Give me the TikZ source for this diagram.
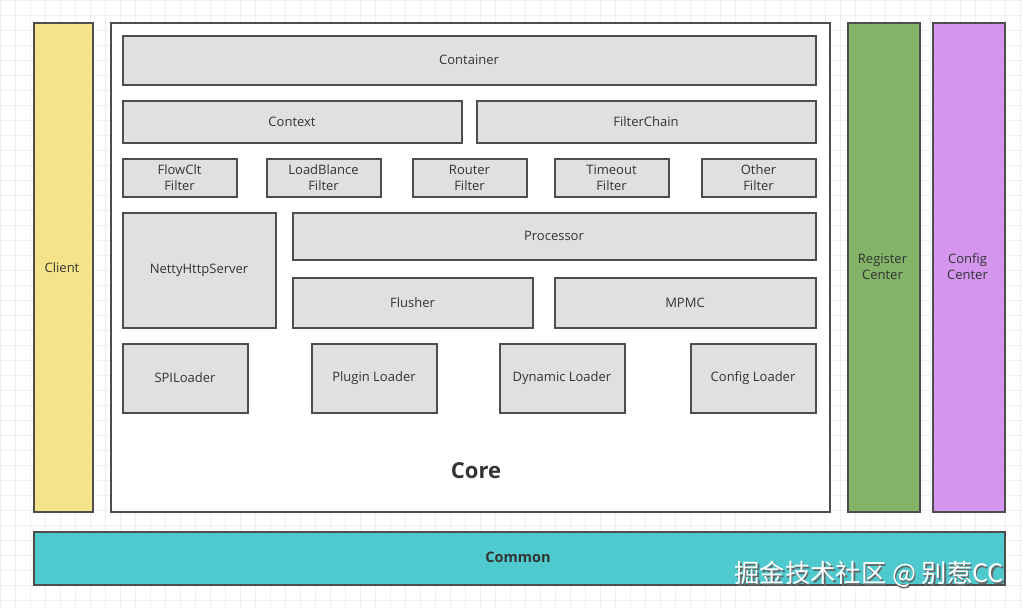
\documentclass[tikz,border=0pt]{standalone}
\usepackage{fontspec}
\setmainfont{Open Sans}
\newfontfamily\cjk{Noto Sans CJK SC}
\definecolor{txt}{HTML}{333333}
\definecolor{edge}{HTML}{4D4D4D}
\definecolor{boxgray}{HTML}{E0E0E0}
\definecolor{clientY}{HTML}{F5E38A}
\definecolor{regG}{HTML}{82B366}
\definecolor{cfgP}{HTML}{D395EE}
\definecolor{commonT}{HTML}{4ECACF}
\definecolor{gridc}{HTML}{EFEFEF}
\begin{document}
\begin{tikzpicture}[x=1pt,y=-1pt,
  lbl/.style={text=txt,font=\fontsize{13}{16}\selectfont,align=center},
  blk/.style={draw=edge,line width=2pt,fill=boxgray,anchor=north west,inner sep=0pt,lbl},
  col/.style={draw=edge,line width=2pt,anchor=north west,inner sep=0pt}]
\useasboundingbox (0,0) rectangle (1022,608);
\fill[white] (0,0) rectangle (1022,608);
\draw[gridc,line width=0.8pt,step=15pt] (0,0) grid (1022,608);
% columns
\node[col,fill=clientY,minimum width=59pt,minimum height=489pt] (client) at (32.5,21.5) {};
\node[lbl] (clientt) at (62,268) {Client};
\node[col,fill=white,minimum width=719pt,minimum height=489pt] (core) at (109.5,21.5) {};
\node[col,fill=regG,minimum width=72pt,minimum height=489pt] (reg) at (846.5,21.5) {};
\node[lbl] (regt) at (882.5,267) {Register\\Center};
\node[col,fill=cfgP,minimum width=72pt,minimum height=489pt] (cfg) at (931.5,21.5) {};
\node[lbl] (cfgt) at (967.5,267) {Config\\Center};
\node[col,fill=commonT,minimum width=971pt,minimum height=53pt] (common) at (32.5,530.5) {};
\node[text=txt,font=\bfseries\fontsize{14.5}{16}\selectfont] (commont) at (518,557) {Common};
% core contents
\node[blk,minimum width=693pt,minimum height=49pt] (container) at (121.5,34.5) {Container};
\node[blk,minimum width=339pt,minimum height=42pt] (context) at (121.5,99.5) {Context};
\node[blk,minimum width=339pt,minimum height=42pt] (chain) at (475.5,99.5) {FilterChain};
\node[blk,minimum width=114pt,minimum height=38pt] (f1) at (121.5,157.5) {FlowClt\\Filter};
\node[blk,minimum width=114pt,minimum height=38pt] (f2) at (265.5,157.5) {LoadBlance\\Filter};
\node[blk,minimum width=114pt,minimum height=38pt] (f3) at (411.5,157.5) {Router\\Filter};
\node[blk,minimum width=114pt,minimum height=38pt] (f4) at (553.5,157.5) {Timeout\\Filter};
\node[blk,minimum width=114pt,minimum height=38pt] (f5) at (700.5,157.5) {Other\\Filter};
\node[blk,minimum width=153pt,minimum height=115pt] (netty) at (121.5,211.5) {NettyHttpServer};
\node[blk,minimum width=523pt,minimum height=47pt] (proc) at (291.5,211.5) {Processor};
\node[blk,minimum width=240pt,minimum height=50pt] (flush) at (291.5,276.5) {Flusher};
\node[blk,minimum width=261pt,minimum height=50pt] (mpmc) at (553.5,276.5) {MPMC};
\node[blk,minimum width=125pt,minimum height=69pt] (l1) at (121.5,342.5) {SPILoader};
\node[blk,minimum width=125pt,minimum height=69pt] (l2) at (310.5,342.5) {Plugin Loader};
\node[blk,minimum width=125pt,minimum height=69pt] (l3) at (498.5,342.5) {Dynamic Loader};
\node[blk,minimum width=125pt,minimum height=69pt] (l4) at (689.5,342.5) {Config Loader};
\node[text=txt,font=\bfseries\fontsize{22}{26}\selectfont] (coret) at (476,471) {Core};
% watermark
\node[text=black!60,font=\cjk\fontsize{25.3}{28}\selectfont,anchor=east,inner sep=0pt] (wm2) at (1005.5,575.5) {掘金技术社区 @ 别惹CC};
\node[text=white,font=\cjk\fontsize{25.3}{28}\selectfont,anchor=east,inner sep=0pt] (wm) at (1004,574) {掘金技术社区 @ 别惹CC};
\end{tikzpicture}
\end{document}
